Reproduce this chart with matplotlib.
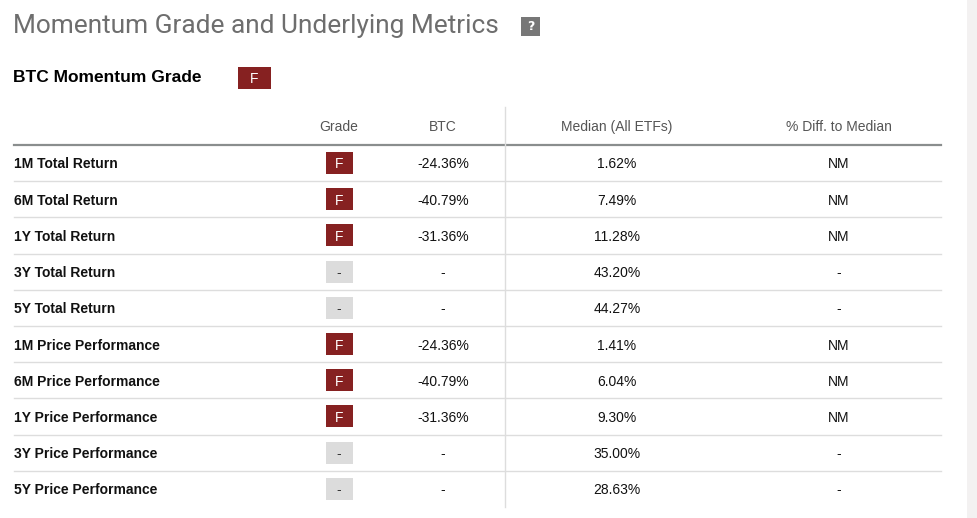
import matplotlib.pyplot as plt
from matplotlib.patches import Rectangle

# table data
metrics = ["1M Total Return", "6M Total Return", "1Y Total Return",
           "3Y Total Return", "5Y Total Return", "1M Price Performance",
           "6M Price Performance", "1Y Price Performance",
           "3Y Price Performance", "5Y Price Performance"]
grades = ["F", "F", "F", "-", "-", "F", "F", "F", "-", "-"]
btc_values = ["-24.36%", "-40.79%", "-31.36%", "-", "-",
              "-24.36%", "-40.79%", "-31.36%", "-", "-"]
median_values = ["1.62%", "7.49%", "11.28%", "43.20%", "44.27%",
                 "1.41%", "6.04%", "9.30%", "35.00%", "28.63%"]
diff_values = ["NM", "NM", "NM", "-", "-", "NM", "NM", "NM", "-", "-"]
headers = ["Grade", "BTC", "Median (All ETFs)", "% Diff. to Median"]
overall_grade = "F"

RED = "#862121"
LIGHT = "#dcdcdc"
BODY = ["Liberation Sans", "DejaVu Sans"]

W, H = 977, 518
fig = plt.figure(figsize=(W / 100, H / 100), dpi=100)
ax = fig.add_axes([0, 0, 1, 1])
ax.set_xlim(0, W)
ax.set_ylim(H, 0)
ax.axis("off")

# scrollbar strip on the right
ax.add_patch(Rectangle((967, 0), 10, H, color="#f3f1f1", lw=0))

# titles
ax.text(13, 26, "Momentum Grade and Underlying Metrics", fontsize=18.9,
        color="#6e6e6e", va="center", family=["Roboto", "DejaVu Sans"])
ax.add_patch(Rectangle((521, 17), 19, 19, color="#777777", lw=0))
ax.text(530.5, 27, "?", fontsize=9, color="white", weight="bold",
        ha="center", va="center")
ax.text(13, 78, "BTC Momentum Grade", fontsize=12.5, weight="bold",
        color="black", va="center", family=BODY)
ax.add_patch(Rectangle((238, 67), 33, 22, color=RED, lw=0))
ax.text(254.5, 79, overall_grade, fontsize=10, color="white",
        ha="center", va="center", family=BODY)

# column layout
col_x = [339, 443, 617, 839]
left, right = 14, 941
header_y = 127
row0, row_h = 163, 36.2
dy = 1.5  # text centre sits a little below the box centre

for x, h in zip(col_x, headers):
    ax.text(x, header_y, h, fontsize=10, color="#555555", ha="center",
            va="center", family=BODY)
ax.plot([left, right], [145, 145], color="#8a8e8e", lw=1.6)
ax.plot([505, 505], [107, 507], color="#dddddd", lw=1)

for i, name in enumerate(metrics):
    y = row0 + i * row_h
    ax.text(left, y + dy, name, fontsize=10, weight="bold", color="#111111",
            va="center", family=BODY)
    g = grades[i]
    box = RED if g == "F" else LIGHT
    fg = "white" if g == "F" else "#333333"
    ax.add_patch(Rectangle((col_x[0] - 13.5, y - 11), 27, 22, color=box, lw=0))
    ax.text(col_x[0], y + dy, g, fontsize=10, color=fg, ha="center",
            va="center", family=BODY)
    for x, v in zip(col_x[1:], [btc_values[i], median_values[i], diff_values[i]]):
        ax.text(x, y + dy, v, fontsize=10, color="#111111", ha="center",
                va="center", family=BODY)
    if i < len(metrics) - 1:
        sep = y + row_h / 2
        ax.plot([left, right], [sep, sep], color="#dddddd", lw=1)

fig.savefig("out.png", dpi=100)
